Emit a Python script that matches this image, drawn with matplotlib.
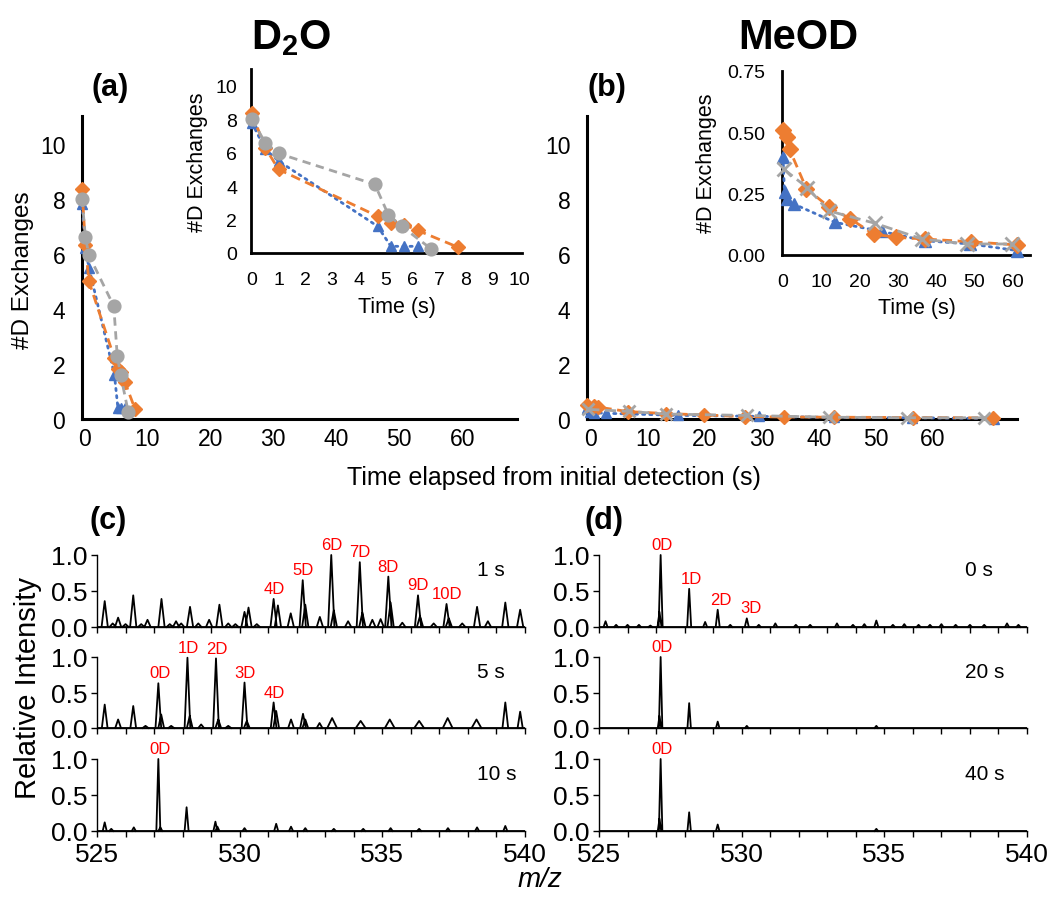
import numpy as np
import matplotlib.pyplot as plt
from matplotlib.ticker import MultipleLocator

plt.rcParams['font.family'] = ['Liberation Sans', 'DejaVu Sans']
plt.rcParams['mathtext.fontset'] = 'custom'
plt.rcParams['mathtext.bf'] = 'Liberation Sans:bold'
plt.rcParams['mathtext.rm'] = 'Liberation Sans'
plt.rcParams['mathtext.it'] = 'Liberation Sans:italic'

BLUE, ORANGE, GREY = '#4472C4', '#ED7D31', '#A5A5A5'

# D2O exchange kinetics: time (s) vs number of D exchanged
d2o_blue_t = [0, 0.5, 1.0, 4.7, 5.2, 5.7, 6.2]
d2o_blue_d = [7.8, 6.2, 5.5, 1.6, 0.4, 0.4, 0.4]
d2o_orange_t = [0, 0.5, 1.0, 4.7, 5.2, 5.7, 6.2, 7.7]
d2o_orange_d = [8.35, 6.3, 5.0, 2.2, 1.8, 1.7, 1.35, 0.35]
d2o_grey_t = [0, 0.5, 1.0, 4.6, 5.1, 5.6, 6.7]
d2o_grey_d = [8.0, 6.6, 5.95, 4.1, 2.3, 1.6, 0.25]

# MeOD exchange kinetics
meod_blue_t = [0, 0.4, 1.0, 2.8, 13.6, 25.8, 37.1, 48.9, 61.2]
meod_blue_d = [0.40, 0.255, 0.228, 0.208, 0.133, 0.096, 0.058, 0.045, 0.018]
meod_orange_t = [0, 1.0, 1.7, 6.1, 11.9, 17.6, 23.7, 29.6, 37.1, 49.0, 61.0]
meod_orange_d = [0.51, 0.483, 0.431, 0.271, 0.197, 0.147, 0.085, 0.072, 0.065, 0.054, 0.041]
meod_grey_t = [0.2, 6.3, 11.9, 24.1, 36.3, 48.0, 59.7]
meod_grey_d = [0.35, 0.275, 0.18, 0.129, 0.065, 0.045, 0.045]

main_tick_labels = [0, 10, 20, 30, 40, 50, 60]

# Mass spectra: peak m/z, relative intensity, peak half-width
c1_mz = [525.27, 525.55, 525.74, 526.0, 526.27, 526.55, 526.77, 527.26, 527.55, 527.77, 527.95,
         528.26, 528.55, 528.93, 529.29, 529.6, 529.85, 530.17, 530.31, 530.6, 531.19, 531.34,
         531.79, 532.21, 532.3, 532.81, 533.21, 533.3, 533.8, 534.21, 534.3, 534.65, 534.94,
         535.21, 535.29, 535.7, 536.25, 536.32, 536.8, 537.25, 537.33, 537.8, 538.32, 538.7,
         539.31, 539.83]
c1_int = [0.36, 0.05, 0.13, 0.04, 0.44, 0.04, 0.10, 0.39, 0.04, 0.08, 0.05,
          0.28, 0.05, 0.10, 0.31, 0.05, 0.04, 0.21, 0.27, 0.04, 0.39, 0.30,
          0.19, 0.65, 0.31, 0.14, 1.0, 0.23, 0.08, 0.90, 0.20, 0.10, 0.11,
          0.70, 0.34, 0.06, 0.44, 0.15, 0.05, 0.32, 0.12, 0.05, 0.28, 0.08,
          0.34, 0.24]
c1_w = [0.11] * len(c1_mz)
c1_labels = ['4D', '5D', '6D', '7D', '8D', '9D', '10D']
c1_label_mz = [531.22, 532.21, 533.21, 534.21, 535.21, 536.25, 537.25]
c1_label_int = [0.39, 0.65, 1.0, 0.90, 0.70, 0.44, 0.32]

c5_mz = [525.27, 525.74, 526.27, 526.7, 527.15, 527.25, 527.6, 528.17, 528.25, 528.65, 529.17,
         529.25, 529.6, 530.17, 530.25, 531.19, 531.28, 531.8, 532.22, 532.3, 532.8, 533.24,
         534.24, 535.26, 536.29, 537.29, 538.3, 539.31, 539.83]
c5_int = [0.33, 0.12, 0.31, 0.03, 0.63, 0.19, 0.03, 0.99, 0.17, 0.05, 0.98,
          0.12, 0.03, 0.64, 0.10, 0.36, 0.24, 0.12, 0.20, 0.12, 0.07, 0.14,
          0.10, 0.12, 0.10, 0.14, 0.12, 0.36, 0.23]
c5_w = [0.1] * 21 + [0.17] * 6 + [0.1, 0.09]
c5_labels = ['0D', '1D', '2D', '3D', '4D']
c5_label_mz = [527.2, 528.2, 529.2, 530.2, 531.22]
c5_label_int = [0.63, 0.99, 0.98, 0.64, 0.36]

c10_mz = [525.27, 525.5, 526.29, 527.15, 527.22, 528.14, 529.15, 529.22, 530.17, 531.28,
          531.8, 532.3, 533.3, 534.33, 535.29, 536.29, 537.3, 538.32, 539.31]
c10_int = [0.12, 0.03, 0.05, 1.0, 0.05, 0.33, 0.13, 0.06, 0.04, 0.10,
           0.06, 0.04, 0.03, 0.03, 0.04, 0.03, 0.04, 0.05, 0.07]
c10_w = [0.07] * len(c10_mz)
c10_labels = ['0D']
c10_label_mz = [527.2]
c10_label_int = [1.0]

d0_mz = [525.23, 525.6, 526.0, 526.4, 526.8, 527.12, 527.16, 528.16, 528.72, 529.16, 529.6,
         530.18, 530.6, 531.18, 531.9, 532.4, 533.34, 533.9, 534.3, 534.72, 535.3, 535.7,
         536.2, 536.6, 537.0, 537.5, 538.0, 538.5, 539.3, 539.7]
d0_int = [0.08, 0.03, 0.03, 0.03, 0.02, 0.21, 1.0, 0.53, 0.07, 0.24, 0.03,
          0.12, 0.03, 0.05, 0.03, 0.03, 0.05, 0.03, 0.04, 0.09, 0.03, 0.04,
          0.03, 0.03, 0.04, 0.03, 0.03, 0.03, 0.05, 0.03]
d0_w = [0.07] * len(d0_mz)
d0_labels = ['0D', '1D', '2D', '3D']
d0_label_mz = [527.2, 528.22, 529.28, 530.33]
d0_label_int = [1.0, 0.53, 0.24, 0.12]

d20_mz = [527.12, 527.16, 528.16, 529.16, 530.18, 534.72]
d20_int = [0.17, 1.0, 0.35, 0.09, 0.03, 0.03]
d20_w = [0.06] * len(d20_mz)
d20_labels = ['0D']
d20_label_mz = [527.2]
d20_label_int = [1.0]

d40_mz = [527.12, 527.16, 528.16, 529.16, 534.72]
d40_int = [0.17, 1.0, 0.26, 0.09, 0.03]
d40_w = [0.06] * len(d40_mz)
d40_labels = ['0D']
d40_label_mz = [527.2]
d40_label_int = [1.0]

W, H = 1048, 904
fig = plt.figure(figsize=(W / 100, H / 100), dpi=100)


def px_axes(left, top, right, bottom):
    return fig.add_axes([left / W, 1 - bottom / H, (right - left) / W, (bottom - top) / H])


def style_kinetics(ax, lw, size, padx, pady):
    for s in ['top', 'right']:
        ax.spines[s].set_visible(False)
    for s in ['left', 'bottom']:
        ax.spines[s].set_linewidth(lw)
        ax.spines[s].set_color('black')
    ax.tick_params(length=0, labelsize=size)
    ax.tick_params(axis='x', pad=padx)
    ax.tick_params(axis='y', pad=pady)
    ax.set_facecolor('none')


def plot_series(ax, blue, orange, grey, grey_marker, ms):
    ax.plot(*blue, color=BLUE, ls=(0, (0.8, 1.8)), lw=2, dash_capstyle='round',
            marker='^', ms=ms * 0.95, mec=BLUE, clip_on=False, zorder=3)
    ax.plot(*orange, color=ORANGE, ls=(0, (3.5, 2)), lw=2,
            marker='D', ms=ms * 0.9, clip_on=False, zorder=4)
    if grey_marker == 'o':
        ax.plot(*grey, color=GREY, ls=(0, (3, 2)), lw=2,
                marker='o', ms=ms * 1.15, clip_on=False, zorder=5)
    else:
        ax.plot(*grey, color=GREY, ls=(0, (4, 2)), lw=2, marker='x',
                ms=ms, mew=2, clip_on=False, zorder=5)


# (a) main
ax_a = px_axes(82, 117, 517, 420)
plot_series(ax_a, (d2o_blue_t, d2o_blue_d), (d2o_orange_t, d2o_orange_d),
            (d2o_grey_t, d2o_grey_d), 'o', 8)
ax_a.set_xlim(0, 63)
ax_a.set_ylim(0, 11)
ax_a.set_yticks([0, 2, 4, 6, 8, 10])
ax_a.set_xticks(np.array(main_tick_labels) * 0.913 + 0.29, [str(v) for v in main_tick_labels])
style_kinetics(ax_a, 2.2, 16.5, 6, 12)
ax_a.set_ylabel('#D Exchanges', fontsize=17.5, va='center')
ax_a.yaxis.set_label_coords(-0.136, 0.495)

# (b) main
ax_b = px_axes(587, 117, 1017, 420)
plot_series(ax_b, (meod_blue_t, meod_blue_d), (meod_orange_t, meod_orange_d),
            (meod_grey_t, meod_grey_d), 'x', 8)
ax_b.set_xlim(0, 64.6)
ax_b.set_ylim(0, 11)
ax_b.set_yticks([0, 2, 4, 6, 8, 10])
ax_b.set_xticks(np.array(main_tick_labels) * 0.856 + 0.6, [str(v) for v in main_tick_labels])
style_kinetics(ax_b, 2.2, 16.5, 6, 12)

# (a) inset
ax_ai = px_axes(251, 70, 522, 254)
plot_series(ax_ai, (d2o_blue_t, d2o_blue_d), (d2o_orange_t, d2o_orange_d),
            (d2o_grey_t, d2o_grey_d), 'o', 8)
ax_ai.set_xlim(-0.03, 10.1)
ax_ai.set_ylim(0, 11)
ax_ai.set_xticks(range(0, 11))
ax_ai.set_yticks([0, 2, 4, 6, 8, 10])
style_kinetics(ax_ai, 2, 14, 13, 10)
ax_ai.set_xlabel('Time (s)', fontsize=15.5, va='center')
ax_ai.xaxis.set_label_coords(0.54, -0.29)
ax_ai.set_ylabel('#D Exchanges', fontsize=15.5, va='center')
ax_ai.yaxis.set_label_coords(-0.196, 0.497)

# (b) inset
ax_bi = px_axes(782, 72, 1030, 256)
plot_series(ax_bi, (meod_blue_t, meod_blue_d), (meod_orange_t, meod_orange_d),
            (meod_grey_t, meod_grey_d), 'x', 9.5)
ax_bi.set_xlim(-0.26, 64.5)
ax_bi.set_ylim(0, 0.75)
ax_bi.set_xticks(range(0, 61, 10))
ax_bi.set_yticks([0, 0.25, 0.5, 0.75], ['0.00', '0.25', '0.50', '0.75'])
style_kinetics(ax_bi, 2, 14, 13, 12)
ax_bi.set_xlabel('Time (s)', fontsize=15.5, va='center')
ax_bi.xaxis.set_label_coords(0.544, -0.283)
ax_bi.set_ylabel('#D Exchanges', fontsize=15.5, va='center')
ax_bi.yaxis.set_label_coords(-0.306, 0.505)

# titles and panel letters
fig.text(291 / W, 1 - 38 / H, r'$\mathbf{D_2O}$', fontsize=30, ha='center', va='center')
fig.text(798 / W, 1 - 38 / H, 'MeOD', fontsize=30, fontweight='bold', ha='center', va='center')
for lab, x, y in [('(a)', 110, 88), ('(b)', 607, 88), ('(c)', 108, 521), ('(d)', 604, 521)]:
    fig.text(x / W, 1 - y / H, lab, fontsize=22, fontweight='bold', ha='center', va='center')
fig.text(554 / W, 1 - 478 / H, 'Time elapsed from initial detection (s)', fontsize=18,
         ha='center', va='center')


def draw_spectrum(ax, mz, inten, width, labels, lab_mz, lab_int, time_text, time_x, bottom_row):
    xs, ys = [], []
    for m, h, w in zip(mz, inten, width):
        xs += [m - w, m, m + w, np.nan]
        ys += [0, h, 0, np.nan]
    ax.plot(xs, ys, color='black', lw=1.3, clip_on=False)
    ax.plot([525, 540], [0, 0], color='black', lw=1.3)
    for t, m, h in zip(labels, lab_mz, lab_int):
        ax.text(m, h + 0.04, t, color='red', fontsize=12, ha='center', va='bottom')
    ax.text(time_x, 0.8, time_text, transform=ax.transAxes, fontsize=15, ha='left', va='center')
    ax.set_xlim(525, 540)
    ax.set_ylim(0, 1)
    for s in ['top', 'right']:
        ax.spines[s].set_visible(False)
    for s in ['left', 'bottom']:
        ax.spines[s].set_linewidth(1.0)
    ax.xaxis.set_major_locator(MultipleLocator(5))
    ax.xaxis.set_minor_locator(MultipleLocator(1))
    ax.set_yticks([0, 0.5, 1.0], ['0.0', '0.5', '1.0'])
    ax.tick_params(which='both', direction='out', length=4, width=1.0, labelsize=19)
    ax.tick_params(axis='y', pad=3)
    ax.tick_params(axis='x', pad=4)
    if not bottom_row:
        ax.tick_params(axis='x', labelbottom=False)


rows = [(556, 628), (658, 729), (760, 832)]
c_data = [(c1_mz, c1_int, c1_w, c1_labels, c1_label_mz, c1_label_int, '1 s'),
          (c5_mz, c5_int, c5_w, c5_labels, c5_label_mz, c5_label_int, '5 s'),
          (c10_mz, c10_int, c10_w, c10_labels, c10_label_mz, c10_label_int, '10 s')]
d_data = [(d0_mz, d0_int, d0_w, d0_labels, d0_label_mz, d0_label_int, '0 s'),
          (d20_mz, d20_int, d20_w, d20_labels, d20_label_mz, d20_label_int, '20 s'),
          (d40_mz, d40_int, d40_w, d40_labels, d40_label_mz, d40_label_int, '40 s')]
for i, (top, bot) in enumerate(rows):
    axc = px_axes(97, top, 525, bot)
    draw_spectrum(axc, *c_data[i], time_x=0.888, bottom_row=(i == 2))
    axd = px_axes(599, top, 1027, bot)
    draw_spectrum(axd, *d_data[i], time_x=0.855, bottom_row=(i == 2))

fig.text(28 / W, 1 - 688 / H, 'Relative Intensity', fontsize=21, rotation=90,
         ha='center', va='center')
fig.text(540 / W, 1 - 880 / H, 'm/z', fontsize=20, style='italic', ha='center', va='center')

fig.savefig('out.png', dpi=100)
